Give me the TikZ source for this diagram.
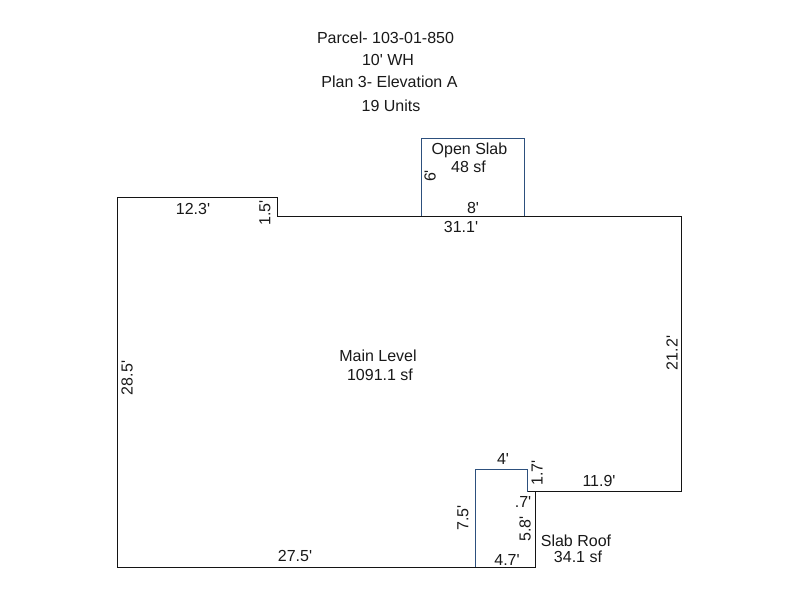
\documentclass[tikz,border=0pt]{standalone}
\usepackage{fontspec}
\newfontfamily\plainsans{Liberation Sans}
\definecolor{slabblue}{RGB}{45,80,125}
\definecolor{inkline}{RGB}{20,20,20}
\tikzset{
  lbl/.style={inner sep=0pt,outer sep=0pt,font=\plainsans\fontsize{16}{18}\selectfont,text=black!90,align=center},
  vlbl/.style={lbl,rotate=90},
  wall/.style={draw=inkline,line width=1pt,line join=miter},
  slab/.style={draw=slabblue,line width=1pt,line join=miter}
}
\begin{document}
\begin{tikzpicture}[x=1pt,y=-1pt]
\useasboundingbox (0,0) rectangle (800,600);
\fill[white] (0,0) rectangle (800,600);
% main level outline
\draw[wall] (527.5,491.5) -- (681.5,491.5) -- (681.5,216) -- (277,216) -- (277,197) -- (117,197) -- (117,567) -- (475,567);
% open slab
\draw[slab] (421,216) -- (421,138.5) -- (524.5,138.5) -- (524.5,216);
% slab roof
\draw[wall] (527.5,491.5) -- (535,491.5) -- (535,567) -- (475,567);
\draw[slab] (475,567) -- (475,469) -- (527.5,469) -- (527.5,491.5);
% title
\node[lbl] (t1) at (385.5,38) {Parcel- 103-01-850};
\node[lbl] (t2) at (388,60) {10' WH};
\node[lbl] (t3) at (389.5,82) {Plan 3- Elevation A};
\node[lbl] (t4) at (391,106) {19 Units};
% open slab labels
\node[lbl] (o1) at (469.5,150) {Open Slab};
\node[lbl] (o2) at (468.5,167) {48 sf};
\node[vlbl] (o3) at (430,176) {6'};
\node[lbl] (o4) at (473,208) {8'};
% main labels
\node[lbl] (m1) at (378,356) {Main Level};
\node[lbl] (m2) at (380,375) {1091.1 sf};
\node[lbl] (d1) at (193,209) {12.3'};
\node[vlbl] (d2) at (265,213) {1.5'};
\node[lbl] (d3) at (461,227) {31.1'};
\node[vlbl] (d4) at (672,353) {21.2'};
\node[vlbl] (d5) at (127,378) {28.5'};
\node[lbl] (d6) at (295,556) {27.5'};
\node[lbl] (d7) at (599,481) {11.9'};
% slab roof labels
\node[lbl] (r1) at (503,459) {4'};
\node[vlbl] (r2) at (537,473) {1.7'};
\node[lbl] (r3) at (523,502) {.7'};
\node[vlbl] (r4) at (525,529) {5.8'};
\node[vlbl] (r5) at (463,518) {7.5'};
\node[lbl] (r6) at (507,560) {4.7'};
\node[lbl] (r7) at (576,541) {Slab Roof};
\node[lbl] (r8) at (578,557) {34.1 sf};
\end{tikzpicture}
\end{document}
